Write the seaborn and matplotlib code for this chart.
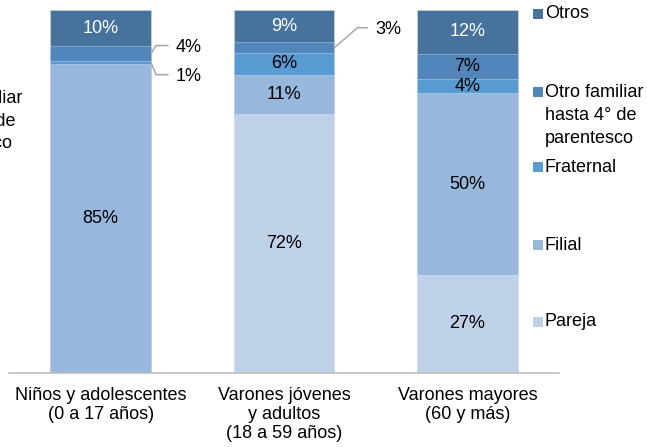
import numpy as np
import pandas as pd
import matplotlib
matplotlib.use("Agg")
import matplotlib.pyplot as plt
import seaborn as sns
from matplotlib.patches import Rectangle
from matplotlib.lines import Line2D
from matplotlib.transforms import IdentityTransform

# ---- data ----
categories = ["Niños y adolescentes\n(0 a 17 años)",
              "Varones jóvenes\ny adultos\n(18 a 59 años)",
              "Varones mayores\n(60 y más)"]
series = ["Pareja", "Filial", "Fraternal",
          "Otro familiar\nhasta 4° de\nparentesco", "Otros"]
pareja = [0, 72, 27]
filial = [85, 11, 50]
fraternal = [1, 6, 4]
otro_familiar = [4, 3, 7]
otros = [10, 9, 12]

colors = ["#BFD1E8", "#98B7DC", "#5B9BD3", "#5286BA", "#46729C"]
label_colors = ["black", "black", "black", "black", "white"]

sns.set_theme(style="white")
plt.rcParams["font.family"] = ["Liberation Sans", "DejaVu Sans"]
FS = 13

W, H = 647, 447
fig = plt.figure(figsize=(W / 100, H / 100), dpi=100)
ax = fig.add_axes([9 / W, (H - 373) / H, 550 / W, 363 / H])

vals = np.array([pareja, filial, fraternal, otro_familiar, otros], dtype=float)
tot = vals.sum(axis=0)
norm = vals / tot * 100
cum = np.cumsum(norm, axis=0)

BW = 0.55
# draw from the top layer down so lower layers overlay
for k in range(len(series) - 1, -1, -1):
    df = pd.DataFrame({"cat": categories, "v": cum[k]})
    sns.barplot(data=df, x="cat", y="v", color=colors[k], width=BW,
                saturation=1, ax=ax, edgecolor=(1, 1, 1, 0.35), linewidth=0.6)

ax.set_xlim(-0.5, 2.5)
ax.set_ylim(0, 100)
ax.set_xlabel("")
ax.set_ylabel("")
ax.set_yticks([])
for s in ["top", "right", "left"]:
    ax.spines[s].set_visible(False)
ax.spines["bottom"].set_color("#BFBFBF")
ax.spines["bottom"].set_linewidth(1.2)
ax.tick_params(axis="x", length=0, pad=10, labelsize=FS, colors="black")
for t in ax.get_xticklabels():
    t.set_linespacing(1.15)

# segment labels
external = {(0, 2): (5, 17, -12), (0, 3): (5, 17, 8), (1, 3): (23, 33, 20)}
fig.canvas.draw()
for i in range(len(categories)):
    for k in range(len(series)):
        v = vals[k, i]
        if v <= 0:
            continue
        lo = cum[k, i] - norm[k, i]
        mid = lo + norm[k, i] / 2
        txt = f"{int(v)}%"
        if (i, k) in external:
            dxe, dxl, dy = external[(i, k)]
            x0, y0 = ax.transData.transform((i + BW / 2, mid))
            line = Line2D([x0, x0 + dxe, x0 + dxl], [y0, y0 + dy, y0 + dy],
                          transform=IdentityTransform(), color="#A6A6A6",
                          lw=1.1)
            fig.add_artist(line)
            fig.text((x0 + dxl + 8) / W, (y0 + dy - 2) / H, txt,
                     ha="left", va="center", fontsize=FS, color="black")
        else:
            ax.text(i, mid, txt, ha="center", va="center", fontsize=FS,
                    color=label_colors[k])

# legend (manual, Excel-like slots)
leg_y = {"Otros": 14, series[3]: 92, "Fraternal": 167, "Filial": 245,
         "Pareja": 322}
for k in range(len(series) - 1, -1, -1):
    name = series[k]
    yc = leg_y[name]
    fig.patches.append(Rectangle((533 / W, (H - yc - 5) / H), 10 / W, 10 / H,
                                 transform=fig.transFigure,
                                 facecolor=colors[k], edgecolor="none"))
    if "\n" in name:
        fig.text(545 / W, (H - yc + 8) / H, name, ha="left", va="top",
                 fontsize=FS, color="black", linespacing=1.45)
    else:
        fig.text(545 / W, (H - yc) / H, name, ha="left", va="center",
                 fontsize=FS, color="black")

# legend text of a neighbouring chart, cut off at the left edge (as in the reference)
r = fig.canvas.get_renderer()
probe = fig.text(0, 0, "Otro familiar", fontsize=FS)
wline = probe.get_window_extent(r).width
probe.remove()
fig.text((22 - wline) / W, (H - 121) / H, "Otro familiar\nhasta 4° de\nparentesco",
         ha="left", va="center", multialignment="left", fontsize=FS,
         color="black", linespacing=1.45)

fig.savefig("out.png", dpi=100)
